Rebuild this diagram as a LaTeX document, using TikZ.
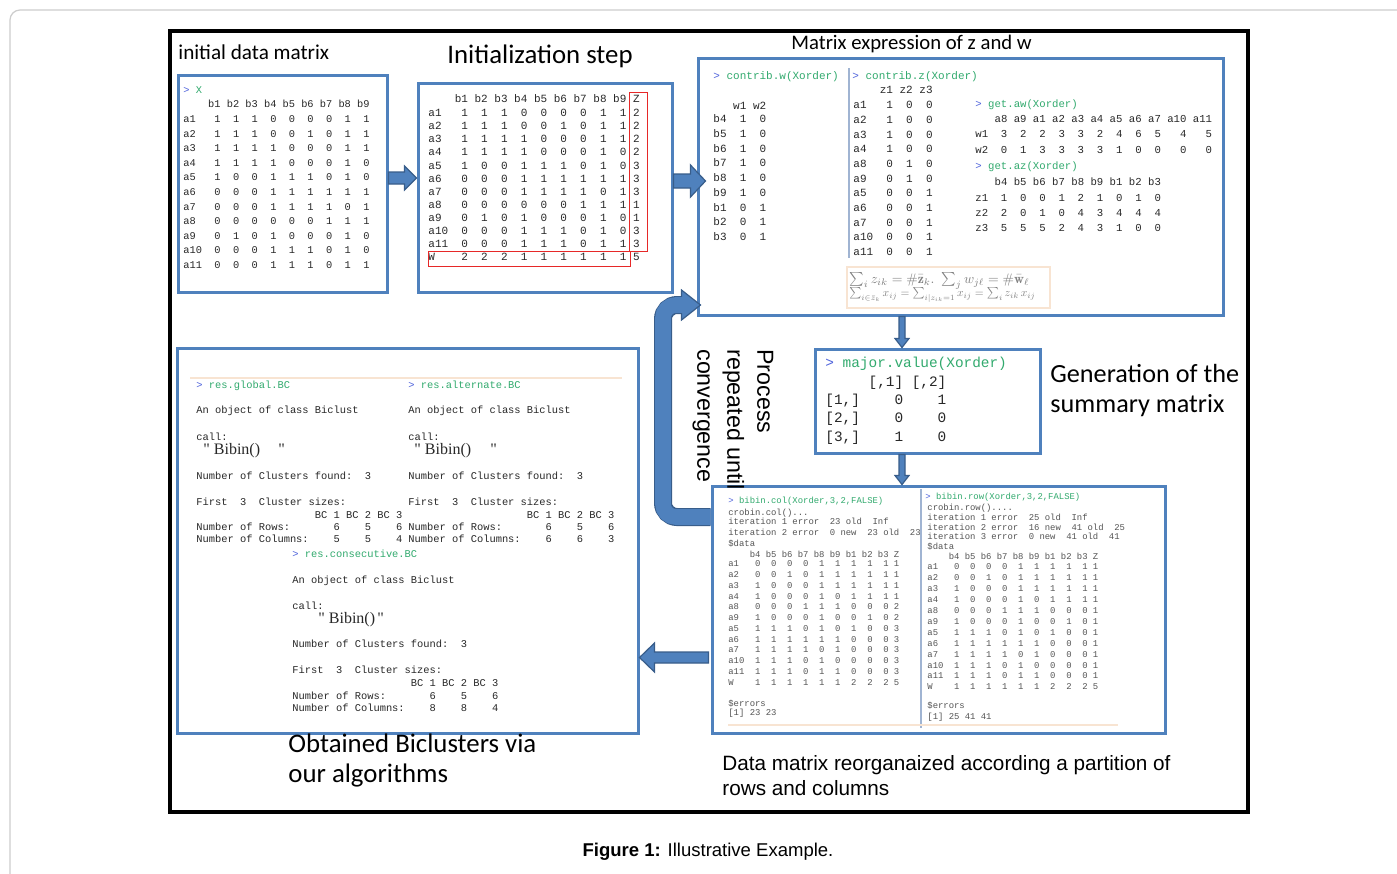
\documentclass[tikz,border=0pt]{standalone}
\usepackage{fontspec}
\usepackage{graphicx}
\usetikzlibrary{calc,fit}
\newfontfamily\carl{Carlito}
\newfontfamily\ars{Liberation Sans}
\newfontfamily\monof{Liberation Mono}
\newfontfamily\tms{Liberation Serif}
\definecolor{boxblue}{RGB}{79,129,189}
\definecolor{arrfill}{RGB}{79,129,189}
\definecolor{arrline}{RGB}{56,93,138}
\definecolor{pblue}{RGB}{80,100,220}
\definecolor{cgreen}{RGB}{50,170,110}
\definecolor{outtxt}{RGB}{40,40,40}
\definecolor{lighttxt}{RGB}{85,85,85}
\definecolor{peach}{RGB}{248,228,210}
\definecolor{sepline}{RGB}{160,180,210}
\definecolor{framegrey}{RGB}{205,205,205}
\definecolor{redbox}{RGB}{230,40,40}
\newcommand\pr[1]{{\color{pblue}>}~{\color{cgreen}#1}}
\newcommand\rl[2]{#1\foreach \vv in #2{~~\vv}}
\newcommand\rarrow[5]{\filldraw[blk] ($(#1)+(0,-#3)$) -- ($(#2)+({-(#5)},-#3)$) -- ($(#2)+({-(#5)},-#4)$) -- (#2) -- ($(#2)+({-(#5)},#4)$) -- ($(#2)+({-(#5)},#3)$) -- ($(#1)+(0,#3)$) -- cycle;}
\newcommand\darrow[5]{\filldraw[blk] ($(#1)+(-#3,0)$) -- ($(#2)+(-#3,{-(#5)})$) -- ($(#2)+(-#4,{-(#5)})$) -- (#2) -- ($(#2)+(#4,{-(#5)})$) -- ($(#2)+(#3,{-(#5)})$) -- ($(#1)+(#3,0)$) -- cycle;}
\begin{document}
\begin{tikzpicture}[x=0.5pt, y=-0.5pt,
 box/.style={draw=boxblue, line width=1.5pt, fill=white, inner sep=0pt},
 txt/.style={anchor=base west, inner sep=0pt, text=outtxt},
 mA/.style={txt, font=\monof\fontsize{5.17}{6}\selectfont},
 mB/.style={txt, font=\monof\fontsize{5.5}{6}\selectfont},
 mC/.style={txt, font=\monof\fontsize{5.33}{6}\selectfont},
 mD/.style={txt, font=\monof\fontsize{7.2}{8}\selectfont},
 mE/.style={txt, font=\monof\fontsize{5.2}{6}\selectfont},
 mF/.style={txt, font=\monof\fontsize{4.45}{5}\selectfont, text=lighttxt},
 bib/.style={txt, font=\tms\fontsize{8}{9}\selectfont},
 blk/.style={fill=arrfill, draw=arrline, line width=0.6pt, line join=miter},
 lbl/.style={anchor=west, inner sep=0pt, align=left},
]
\useasboundingbox (0,0) rectangle (1397,873);
\clip (0,0) rectangle (1397,873);
\fill[white] (0,0) rectangle (1397,873);
\draw[framegrey, line width=0.6pt, rounded corners=5pt] (10,10) rectangle (1420,900);
\draw[line width=2pt] (170,31) rectangle (1248,812);

% boxes
\node[box, fit={(178,75) (387,292)}] (b1) {};
\node[box, fit={(418,83) (672,292)}] (b2) {};
\node[box, fit={(698,58) (1223,315)}] (b3) {};
\node[box, fit={(815,349) (1040,453)}] (b4) {};
\node[box, fit={(177,348) (638,733)}] (b5) {};
\node[box, fit={(712,486) (1165,733)}] (b6) {};

% labels
\node[lbl, font=\carl\fontsize{10.6}{12}\selectfont] (l1) at (178,52) {initial data matrix};
\node[lbl, font=\carl\fontsize{13.4}{15}\selectfont] (l2) at (447,56) {Initialization step};
\node[lbl, font=\carl\fontsize{10.35}{12}\selectfont] (l3) at (791,44) {Matrix expression of z and w};
\node[lbl, font=\carl\fontsize{13.1}{15}\selectfont] (l4) at (1050,391) {Generation of the\\summary matrix};
\node[lbl, font=\carl\fontsize{13.4}{15}\selectfont] (l5) at (288,760) {Obtained Biclusters via\\our algorithms};
\node[lbl, font=\ars\fontsize{10.36}{12.5}\selectfont] (l6) at (722,775.5) {Data matrix reorganaized according a partition of\\rows and columns};
\node[font=\ars\fontsize{9.26}{11}\selectfont, inner sep=0pt] (cap) at (708,852) {\textbf{Figure 1:} Illustrative Example.};

% box 1
\node[mA] (xp) at (183,93.4) {\pr{X}};
\node[mA] (xh) at (183,107.4) {~~~~b1~b2~b3~b4~b5~b6~b7~b8~b9};
\foreach \lab/\vals [count=\i] in {a1~/{1,1,1,0,0,0,0,1,1},a2~/{1,1,1,0,0,1,0,1,1},a3~/{1,1,1,1,0,0,0,1,1},a4~/{1,1,1,1,0,0,0,1,0},a5~/{1,0,0,1,1,1,0,1,0},a6~/{0,0,0,1,1,1,1,1,1},a7~/{0,0,0,1,1,1,1,0,1},a8~/{0,0,0,0,0,0,1,1,1},a9~/{0,1,0,1,0,0,0,1,0},a10/{0,0,0,1,1,1,0,1,0},a11/{0,0,0,1,1,1,0,1,1}}
  \node[mA] (xr\i) at (183,{122.4+14.6*(\i-1)}) {\rl{\lab}{\vals}};

% box 2
\node[mB] (ih) at (428,102.6) {~~~~b1~b2~b3~b4~b5~b6~b7~b8~b9~Z};
\foreach \lab/\vals/\zz [count=\i] in {a1~/{1,1,1,0,0,0,0,1,1}/2,a2~/{1,1,1,0,0,1,0,1,1}/2,a3~/{1,1,1,1,0,0,0,1,1}/2,a4~/{1,1,1,1,0,0,0,1,0}/2,a5~/{1,0,0,1,1,1,0,1,0}/3,a6~/{0,0,0,1,1,1,1,1,1}/3,a7~/{0,0,0,1,1,1,1,0,1}/3,a8~/{0,0,0,0,0,0,1,1,1}/1,a9~/{0,1,0,1,0,0,0,1,0}/1,a10/{0,0,0,1,1,1,0,1,0}/3,a11/{0,0,0,1,1,1,0,1,1}/3,W~~/{2,2,2,1,1,1,1,1,1}/5}
  \node[mB] (ir\i) at (428,{116.6+13.1*(\i-1)}) {\rl{\lab}{\vals}~\zz};
\draw[redbox, line width=0.5pt] (629,92) rectangle (647,251);
\draw[redbox, line width=0.5pt] (428,251) rectangle (630,266);

% box 3
\node[mB] (cwt) at (713,79.6) {\pr{contrib.w(Xorder)}};
\node[mB] (cwh) at (713,109.6) {~~~w1~w2};
\foreach \lab/\vals [count=\i] in {b4/{1,0},b5/{1,0},b6/{1,0},b7/{1,0},b8/{1,0},b9/{1,0},b1/{0,1},b2/{0,1},b3/{0,1}}
  \node[mB] (cw\i) at (713,{122.6+14.75*(\i-1)}) {\rl{\lab}{\vals}};
\draw[sepline, line width=0.6pt] (849,68) -- (849,258);
\node[mB] (czt) at (852,79.6) {\pr{contrib.z(Xorder)}};
\node[mB] (czh) at (853,93.6) {~~~~z1~z2~z3};
\foreach \lab/\vals [count=\i] in {a1~/{1,0,0},a2~/{1,0,0},a3~/{1,0,0},a4~/{1,0,0},a8~/{0,1,0},a9~/{0,1,0},a5~/{0,0,1},a6~/{0,0,1},a7~/{0,0,1},a10/{0,0,1},a11/{0,0,1}}
  \node[mB] (cz\i) at (853,{108.6+14.7*(\i-1)}) {\rl{\lab}{\vals}};
\node[mC] (awt) at (975,107.5) {\pr{get.aw(Xorder)}};
\node[mC] (awh) at (975,122.5) {~~~a8~a9~a1~a2~a3~a4~a5~a6~a7~a10~a11};
\node[mC] (aw1) at (975,137.5) {w1~~3~~2~~2~~3~~3~~2~~4~~6~~5~~~4~~~5};
\node[mC] (aw2) at (975,153.5) {w2~~0~~1~~3~~3~~3~~3~~1~~0~~0~~~0~~~0};
\node[mC] (azt) at (975,169.5) {\pr{get.az(Xorder)}};
\node[mC] (azh) at (975,185.5) {~~~b4~b5~b6~b7~b8~b9~b1~b2~b3};
\node[mC] (az1) at (975,201.5) {\rl{z1}{{1,0,0,1,2,1,0,1,0}}};
\node[mC] (az2) at (975,216.5) {\rl{z2}{{2,0,1,0,4,3,4,4,4}}};
\node[mC] (az3) at (975,231.5) {\rl{z3}{{5,5,5,2,4,3,1,0,0}}};
\draw[peach, line width=0.8pt] (847,267) rectangle (1050,308);
\node[lbl, text=gray, font=\fontsize{10}{12}\selectfont] (f1) at (849,281) {\resizebox{90pt}{!}{$\sum_i z_{ik} = \#\bar{\mathbf{z}}_k.\ \sum_j w_{j\ell} = \#\bar{\mathbf{w}}_\ell$}};
\node[lbl, text=gray, font=\fontsize{10}{12}\selectfont] (f2) at (849,295) {\resizebox{93pt}{!}{$\sum_{i\in \bar z_k} x_{ij} = \sum_{i|z_{ik}=1} x_{ij} = \sum_i z_{ik}\, x_{ij}$}};

% box 4
\node[mD] (mvt) at (825,367.8) {\pr{major.value(Xorder)}};
\node[mD] (mvh) at (825,386.8) {~~~~~[,1]~[,2]};
\node[mD] (mv1) at (825,404.8) {[1,]~~~~0~~~~1};
\node[mD] (mv2) at (825,422.8) {[2,]~~~~0~~~~0};
\node[mD] (mv3) at (825,441.8) {[3,]~~~~1~~~~0};

% box 5
\draw[peach, line width=0.6pt] (190,378) -- (622,378);
\node[mE] (g1) at (196,388.4) {\pr{res.global.BC}};
\node[mE] (g2) at (196,413.4) {An~object~of~class~Biclust};
\node[mE] (g3) at (196,440.4) {call:};
\node[bib] (g4) at (203,454) {"~Bibin()};
\node[bib] (g4b) at (278,454) {"};
\node[mE] (g5) at (196,479.4) {Number~of~Clusters~found:~~3};
\node[mE] (g6) at (196,505.4) {First~~3~~Cluster~sizes:};
\node[mE] (g7) at (196,518.4) {~~~~~~~~~~~~~~~~~~~BC~1~BC~2~BC~3};
\node[mE] (g8) at (196,530.4) {Number~of~Rows:~~~~~~~6~~~~5~~~~6};
\node[mE] (g9) at (196,542.4) {Number~of~Columns:~~~~5~~~~5~~~~4};
\node[mE] (al1) at (408,388.4) {\pr{res.alternate.BC}};
\node[mE] (al2) at (408,413.4) {An~object~of~class~Biclust};
\node[mE] (al3) at (408,440.4) {call:};
\node[bib] (al4) at (414,454) {"~Bibin()};
\node[bib] (al4b) at (490,454) {"};
\node[mE] (al5) at (408,479.4) {Number~of~Clusters~found:~~3};
\node[mE] (al6) at (408,505.4) {First~~3~~Cluster~sizes:};
\node[mE] (al7) at (408,518.4) {~~~~~~~~~~~~~~~~~~~BC~1~BC~2~BC~3};
\node[mE] (al8) at (408,530.4) {Number~of~Rows:~~~~~~~6~~~~5~~~~6};
\node[mE] (al9) at (408,542.4) {Number~of~Columns:~~~~6~~~~6~~~~3};
\node[mE] (c1) at (292,557.4) {\pr{res.consecutive.BC}};
\node[mE] (c2) at (292,583.4) {An~object~of~class~Biclust};
\node[mE] (c3) at (292,609.4) {call:};
\node[bib] (c4) at (318,623) {"~Bibin()};
\node[bib] (c4b) at (377,623) {"};
\node[mE] (c5) at (292,647.4) {Number~of~Clusters~found:~~3};
\node[mE] (c6) at (292,673.4) {First~~3~~Cluster~sizes:};
\node[mE] (c7) at (292,686.4) {~~~~~~~~~~~~~~~~~~~BC~1~BC~2~BC~3};
\node[mE] (c8) at (292,699.4) {Number~of~Rows:~~~~~~~6~~~~5~~~~6};
\node[mE] (c9) at (292,711.4) {Number~of~Columns:~~~~8~~~~8~~~~4};

% box 6
\draw[sepline, line width=0.6pt] (921,489) -- (921,728);
\draw[peach, line width=0.8pt] (728,725) -- (1118,725);
\node[mF] (bc1) at (728,503.9) {\pr{bibin.col(Xorder,3,2,FALSE)}};
\node[mF] (bc2) at (728,515.9) {crobin.col()...};
\node[mF] (bc3) at (728,524.9) {iteration~1~error~~23~old~~Inf};
\node[mF] (bc4) at (728,535.9) {iteration~2~error~~0~new~~23~old~~23};
\node[mF] (bc5) at (728,546.9) {\$data};
\node[mF] (bc6) at (728,557.9) {~~~~b4~b5~b6~b7~b8~b9~b1~b2~b3~Z};
\foreach \lab/\vals/\zz [count=\i] in {a1~/{0,0,0,0,1,1,1,1,1}/1,a2~/{0,0,1,0,1,1,1,1,1}/1,a3~/{1,0,0,0,1,1,1,1,1}/1,a4~/{1,0,0,0,1,0,1,1,1}/1,a8~/{0,0,0,1,1,1,0,0,0}/2,a9~/{1,0,0,0,1,0,0,1,0}/2,a5~/{1,1,1,0,1,0,1,0,0}/3,a6~/{1,1,1,1,1,1,0,0,0}/3,a7~/{1,1,1,1,0,1,0,0,0}/3,a10/{1,1,1,0,1,0,0,0,0}/3,a11/{1,1,1,0,1,1,0,0,0}/3,W~~/{1,1,1,1,1,1,2,2,2}/5}
  \node[mF] (bcr\i) at (728,{566.9+10.75*(\i-1)}) {\rl{\lab}{\vals}~\zz};
\node[mF] (bc7) at (728,706.9) {\$errors};
\node[mF] (bc8) at (728,715.9) {[1]~23~23};
\node[mF] (br1) at (925,499.9) {\pr{bibin.row(Xorder,3,2,FALSE)}};
\node[mF] (br2) at (927,510.9) {crobin.row()....};
\node[mF] (br3) at (927,520.9) {iteration~1~error~~25~old~~Inf};
\node[mF] (br4) at (927,530.9) {iteration~2~error~~16~new~~41~old~~25};
\node[mF] (br5) at (927,539.9) {iteration~3~error~~0~new~~41~old~~41};
\node[mF] (br6) at (927,549.9) {\$data};
\node[mF] (br7) at (927,559.9) {~~~~b4~b5~b6~b7~b8~b9~b1~b2~b3~Z};
\foreach \lab/\vals/\zz [count=\i] in {a1~/{0,0,0,0,1,1,1,1,1}/1,a2~/{0,0,1,0,1,1,1,1,1}/1,a3~/{1,0,0,0,1,1,1,1,1}/1,a4~/{1,0,0,0,1,0,1,1,1}/1,a8~/{0,0,0,1,1,1,0,0,0}/1,a9~/{1,0,0,0,1,0,0,1,0}/1,a5~/{1,1,1,0,1,0,1,0,0}/1,a6~/{1,1,1,1,1,1,0,0,0}/1,a7~/{1,1,1,1,0,1,0,0,0}/1,a10/{1,1,1,0,1,0,0,0,0}/1,a11/{1,1,1,0,1,1,0,0,0}/1,W~~/{1,1,1,1,1,1,2,2,2}/5}
  \node[mF] (brr\i) at (927,{569.9+10.9*(\i-1)}) {\rl{\lab}{\vals}~\zz};
\node[mF] (br8) at (927,708.9) {\$errors};
\node[mF] (br9) at (927,719.9) {[1]~25~41~41};

% arrows
\coordinate (a1s) at (b1.east |- 0,178);
\coordinate (a1e) at (b2.west |- 0,178);
\rarrow{a1s}{a1e}{6}{12}{12}
\coordinate (a2s) at (b2.east |- 0,181);
\coordinate (a2e) at ($(b3.west |- 0,181)+(9,0)$);
\rarrow{a2s}{a2e}{7}{16}{15}
\coordinate (a3s) at (b3.south -| 902,0);
\coordinate (a3e) at (b4.north -| 902,0);
\darrow{a3s}{a3e}{3}{7}{9}
\coordinate (a4s) at (b4.south -| 902,0);
\coordinate (a4e) at (b6.north -| 902,0);
\darrow{a4s}{a4e}{3}{7}{9}
\coordinate (a5s) at ($(b6.west |- 0,657.5)+(-2,0)$);
\coordinate (a5e) at (b5.east |- 0,657.5);
\rarrow{a5s}{a5e}{5.5}{14.5}{-15}

% loop arrow
\coordinate (cs) at (b6.west |- 0,517);
\coordinate (ce) at ($(b3.west |- 0,305)+(4,0)$);
\draw[arrline, line width=9pt, rounded corners=7pt] (cs) -- (663,517) -- (663,305) -- ($(ce)+(-16,0)$);
\filldraw[fill=arrfill, draw=arrline, line width=0.6pt, line join=miter] ($(ce)+(-19,-15)$) -- (ce) -- ($(ce)+(-19,15)$) -- cycle;
\draw[arrfill, line width=7.8pt, rounded corners=6.4pt] (cs) -- (663,517) -- (663,305) -- ($(ce)+(-17,0)$);

\node[anchor=west, rotate=-90, align=left, inner sep=0pt, font=\ars\fontsize{11.6}{15}\selectfont] (proc) at (733,349) {Process\\repeated until\\convergence};
\end{tikzpicture}
\end{document}
